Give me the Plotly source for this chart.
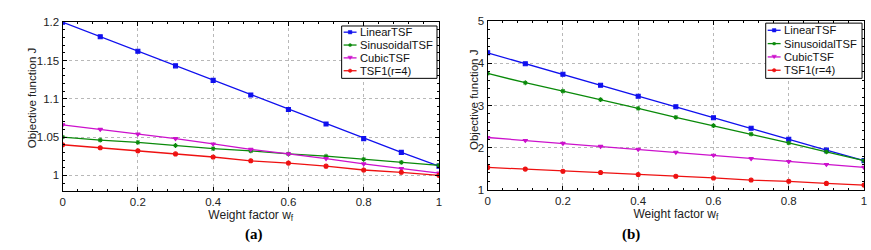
import plotly.graph_objects as go

wf = [0, 0.1, 0.2, 0.3, 0.4, 0.5, 0.6, 0.7, 0.8, 0.9, 1.0]

# Panel (a)
a_linear = [1.200, 1.181, 1.162, 1.143, 1.124, 1.105, 1.086, 1.067, 1.048, 1.030, 1.012]
a_sinus = [1.050, 1.046, 1.043, 1.039, 1.035, 1.032, 1.028, 1.025, 1.021, 1.017, 1.013]
a_cubic = [1.066, 1.060, 1.054, 1.048, 1.041, 1.034, 1.028, 1.022, 1.015, 1.009, 1.003]
a_tsf1 = [1.040, 1.036, 1.032, 1.028, 1.024, 1.019, 1.016, 1.012, 1.007, 1.004, 1.000]

# Panel (b)
b_linear = [4.25, 3.99, 3.74, 3.48, 3.22, 2.97, 2.71, 2.46, 2.20, 1.94, 1.69]
b_sinus = [3.76, 3.54, 3.34, 3.14, 2.93, 2.72, 2.52, 2.32, 2.11, 1.90, 1.69]
b_cubic = [2.24, 2.17, 2.10, 2.03, 1.96, 1.89, 1.82, 1.74, 1.67, 1.60, 1.53]
b_tsf1 = [1.53, 1.49, 1.44, 1.41, 1.36, 1.32, 1.28, 1.23, 1.20, 1.15, 1.11]

names = ["LinearTSF", "SinusoidalTSF", "CubicTSF", "TSF1(r=4)"]
colors = ["#1010ee", "#0a8a0a", "#cc11cc", "#ee1111"]
symbols = ["square", "asterisk-open", "triangle-down", "circle"]

x_ticks = [0, 0.2, 0.4, 0.6, 0.8, 1]
a_yticks = [1, 1.05, 1.1, 1.15, 1.2]
b_yticks = [1, 2, 3, 4, 5]

FONT = "Liberation Sans, Arial, sans-serif"
W, H = 871, 250

fig = go.Figure()
for panel, series in (("", [a_linear, a_sinus, a_cubic, a_tsf1]),
                      ("2", [b_linear, b_sinus, b_cubic, b_tsf1])):
    for i, ys in enumerate(series):
        fig.add_trace(go.Scatter(
            x=wf, y=ys, name=names[i], mode="lines+markers", showlegend=False,
            line=dict(color=colors[i], width=1.3),
            marker=dict(symbol=symbols[i], size=4, color=colors[i],
                        line=dict(color=colors[i], width=1.1)),
            xaxis="x" + panel, yaxis="y" + panel))

axis_common = dict(
    showline=True, linecolor="black", linewidth=1.2, mirror="allticks",
    ticks="inside", ticklen=4, tickcolor="black",
    showgrid=True, gridcolor="#b8b8b8", griddash="dot", gridwidth=1,
    zeroline=False, tickfont=dict(family=FONT, size=11.5, color="#222"),
)

fig.update_layout(
    width=W, height=H,
    margin=dict(l=0, r=0, t=0, b=0),
    paper_bgcolor="white", plot_bgcolor="white",
    font=dict(family=FONT, color="#222"),
    showlegend=False,
    xaxis=dict(domain=[0.0689, 0.5040], range=[0, 1], tickvals=x_ticks,
               ticktext=[str(v) for v in x_ticks],
               minor=dict(ticks="inside", dtick=0.04, ticklen=2, tickcolor="black", showgrid=False),
               title=dict(text="Weight factor w<sub>f</sub>", font=dict(size=12), standoff=2),
               anchor="y", **axis_common),
    yaxis=dict(domain=[0.224, 0.932], range=[0.98, 1.2], tickvals=a_yticks,
               ticktext=["1", "1.05", "1.1", "1.15", "1.2"],
               minor=dict(ticks="inside", dtick=0.01, ticklen=2, tickcolor="black", showgrid=False),
               anchor="x", **axis_common),
    xaxis2=dict(domain=[0.5603, 0.9954], range=[0, 1], tickvals=x_ticks,
                ticktext=[str(v) for v in x_ticks],
                minor=dict(ticks="inside", dtick=0.04, ticklen=2, tickcolor="black", showgrid=False),
                title=dict(text="Weight factor w<sub>f</sub>", font=dict(size=12), standoff=2),
                anchor="y2", **axis_common),
    yaxis2=dict(domain=[0.228, 0.936], range=[1, 5], tickvals=b_yticks,
                ticktext=[str(v) for v in b_yticks],
                minor=dict(ticks="inside", dtick=0.2, ticklen=2, tickcolor="black", showgrid=False),
                anchor="x2", **axis_common),
)


def px(x):
    return x / W


def py(y):
    return 1 - y / H


# y-axis titles
for tx, ty in ((30, 97), (475, 99)):
    fig.add_annotation(text="Objective function J", x=px(tx), y=py(ty), xref="paper", yref="paper",
                       textangle=-90, xanchor="center", yanchor="middle", showarrow=False,
                       font=dict(family=FONT, size=11.5, color="#222"))

# Manual compact legends (MATLAB-style boxes)
legend_boxes = [(341, 21, 437, 76), (768, 18, 865, 76)]
row_y = [[27.5, 41, 54.5, 68], [25.5, 39.5, 53.5, 67.5]]
for (x0, y0, x1, y1), rows in zip(legend_boxes, row_y):
    fig.add_shape(type="rect", xref="paper", yref="paper",
                  x0=px(x0), y0=py(y0), x1=px(x1), y1=py(y1),
                  line=dict(color="black", width=1), fillcolor="white", layer="above")
    lx0, lx1 = x0 + 2, x0 + 15
    cx = (lx0 + lx1) / 2
    for i, ry in enumerate(rows):
        c = colors[i]
        fig.add_shape(type="line", xref="paper", yref="paper",
                      x0=px(lx0), y0=py(ry), x1=px(lx1), y1=py(ry),
                      line=dict(color=c, width=1.3), layer="above")
        r = 1.8
        if i == 0:
            fig.add_shape(type="rect", xref="paper", yref="paper",
                          x0=px(cx - r), y0=py(ry - r), x1=px(cx + r), y1=py(ry + r),
                          line=dict(color=c, width=0.5), fillcolor=c, layer="above")
        elif i == 1:
            for dx, dy in ((r, 0), (0, r), (r * 0.7, r * 0.7), (r * 0.7, -r * 0.7)):
                fig.add_shape(type="line", xref="paper", yref="paper",
                              x0=px(cx - dx), y0=py(ry - dy), x1=px(cx + dx), y1=py(ry + dy),
                              line=dict(color=c, width=1.1), layer="above")
        elif i == 2:
            path = (f"M {px(cx - r - 0.5)},{py(ry - r)} L {px(cx + r + 0.5)},{py(ry - r)} "
                    f"L {px(cx)},{py(ry + r)} Z")
            fig.add_shape(type="path", xref="paper", yref="paper", path=path,
                          line=dict(color=c, width=0.5), fillcolor=c, layer="above")
        else:
            fig.add_shape(type="circle", xref="paper", yref="paper",
                          x0=px(cx - r), y0=py(ry - r), x1=px(cx + r), y1=py(ry + r),
                          line=dict(color=c, width=0.5), fillcolor=c, layer="above")
        fig.add_annotation(text=names[i], x=px(lx1 + 1), y=py(ry), xref="paper", yref="paper",
                           xanchor="left", yanchor="middle", showarrow=False,
                           font=dict(family=FONT, size=11.2, color="#111"))

fig.add_annotation(text="<b>(a)</b>", x=px(253), y=py(240), xref="paper", yref="paper",
                   xanchor="center", yanchor="middle", showarrow=False,
                   font=dict(family="Liberation Serif, serif", size=15, color="black"))
fig.add_annotation(text="<b>(b)</b>", x=px(632), y=py(240), xref="paper", yref="paper",
                   xanchor="center", yanchor="middle", showarrow=False,
                   font=dict(family="Liberation Serif, serif", size=15, color="black"))

fig.write_html("out.html")
